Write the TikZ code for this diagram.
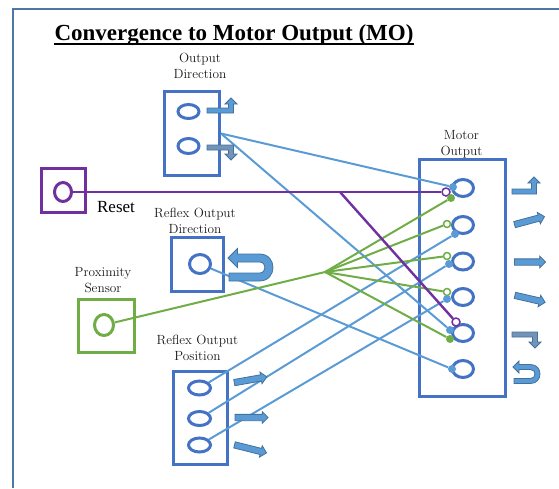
\documentclass[tikz,border=0pt]{standalone}
\usepackage{fontspec}
\newfontfamily\timesfont{Liberation Serif}
\usepackage{tikz}
\usetikzlibrary{arrows.meta,shapes.geometric,shapes.arrows,calc}
\definecolor{cBoxL}{HTML}{4472C4}
\definecolor{cWire}{HTML}{5B9BD5}
\definecolor{cGrn}{HTML}{70AD47}
\definecolor{cPur}{HTML}{7030A0}
\definecolor{cArrF}{HTML}{5B9BD5}
\definecolor{cArrL}{HTML}{41719C}
\definecolor{cArrD}{HTML}{7393B8}
\definecolor{cFrame}{HTML}{4A78A8}
\pgfdeclarelayer{front}
\pgfsetlayers{main,front}
\tikzset{
  unitbox/.style={draw=cBoxL,line width=3pt,inner sep=0pt},
  unitring/.style={ellipse,draw=cBoxL,line width=3pt,inner sep=0pt},
  unitlab/.style={font=\fontsize{13.3}{15.5}\selectfont,align=center,inner sep=0pt,
      text=black!90},
  wire/.style={draw=cWire,line width=2pt},
  gwire/.style={draw=cGrn,line width=2pt},
  pwire/.style={draw=cPur,line width=2.4pt},
  dotb/.style={circle,fill=cWire,inner sep=0pt,minimum size=8pt},
  dotg/.style={circle,fill=cGrn,inner sep=0pt,minimum size=8pt},
  ringg/.style={circle,draw=cGrn,fill=white,line width=1.5pt,inner sep=0pt,minimum size=7pt},
  ringp/.style={circle,draw=cPur,fill=white,line width=1.5pt,inner sep=0pt,minimum size=8pt},
  arrbody/.style={fill=cArrF,draw=cArrL,line width=0.8pt},
  blockarr/.style={single arrow,arrbody,inner sep=2.75pt,single arrow head extend=2.75pt,
      minimum height=33pt},
}
\newcommand{\unit}[6]{\node[unitbox,draw=#6,minimum width=#4pt,minimum height=#5pt]
  (#1) at (#2,#3) {};}
\newcommand{\ring}[6]{\node[unitring,draw=#6,minimum width=#4pt,minimum height=#5pt]
  (#1) at (#2,#3) {};}
\newcommand{\bendarr}[6]{%
  \filldraw[arrbody,fill=#6] (#1,{#3-(#5)*2.5}) -- ({#2+2.5},{#3-(#5)*2.5})
    -- ({#2+2.5},{#4-(#5)*6}) -- ({#2+6},{#4-(#5)*6}) -- (#2,#4)
    -- ({#2-6},{#4-(#5)*6}) -- ({#2-2.5},{#4-(#5)*6}) -- ({#2-2.5},{#3+(#5)*2.5})
    -- (#1,{#3+(#5)*2.5}) -- cycle;}
\newcommand{\uturnarr}[6]{%
  \pgfmathsetmacro\uR{#4/2+#5/2}\pgfmathsetmacro\ur{#4/2-#5/2}%
  \pgfmathsetmacro\uxc{#1+#3-\uR}%
  \filldraw[arrbody] (#1,#2) -- ({#1+#6},{#2-#6}) -- ({#1+#6},{#2-#5/2}) -- (\uxc,{#2-#5/2})
    .. controls ({\uxc+1.333*\uR},{#2-#5/2}) and ({\uxc+1.333*\uR},{#2+#4+#5/2})
    .. (\uxc,{#2+#4+#5/2}) -- ({#1+1},{#2+#4+#5/2}) -- ({#1+1},{#2+#4-#5/2})
    -- (\uxc,{#2+#4-#5/2}) .. controls ({\uxc+1.333*\ur},{#2+#4-#5/2})
    and ({\uxc+1.333*\ur},{#2+#5/2}) .. (\uxc,{#2+#5/2}) -- ({#1+#6},{#2+#5/2})
    -- ({#1+#6},{#2+#6}) -- cycle;}

\begin{document}
\begin{tikzpicture}[x=1pt,y=-1pt]
  \useasboundingbox (0,0) rectangle (559,488);
  \draw[cFrame,line width=2pt] (13,488) -- (13,9) -- (559,9);

  \node[font=\timesfont\bfseries\fontsize{23}{25}\selectfont,anchor=base,inner sep=0pt]
    (title) at (234,40.5) {Convergence to Motor Output (MO)};
  \draw[line width=1.4pt] ($(title.base west)+(0,3.5)$) -- ($(title.base east)+(0,3.5)$);

  \unit{odbox}{192}{133.5}{55}{84}{cBoxL}
  \unit{rsbox}{63.5}{190.5}{44}{44}{cPur}
  \unit{rdbox}{197.5}{264.5}{52}{54}{cBoxL}
  \unit{psbox}{106.5}{326}{56}{53}{cGrn}
  \unit{rpbox}{200.5}{418}{54}{93}{cBoxL}
  \unit{mobox}{462.5}{278}{86}{237}{cBoxL}

  \ring{od1}{188.5}{111.5}{21}{14}{cBoxL}
  \ring{od2}{188.5}{146}{21}{15}{cBoxL}
  \ring{rsring}{63}{192}{17}{19}{cPur}
  \ring{rdring}{200}{264}{21}{19}{cBoxL}
  \ring{psring}{104}{325}{19}{21}{cGrn}
  \ring{rp1}{199.5}{388}{22}{14}{cBoxL}
  \ring{rp2}{199.5}{418.5}{22}{14}{cBoxL}
  \ring{rp3}{199.5}{445}{22}{14}{cBoxL}
  \foreach \i/\yy in {1/188,2/225,3/261.5,4/297,5/333,6/369}
    {\ring{mo\i}{463}{\yy}{21}{17}{cBoxL}}

  \node[unitlab] (odlab) at (200,66) {Output\\Direction};
  \node[unitlab] (molab) at (461.5,144) {Motor\\Output};
  \node[unitlab] (rdlab) at (195,221) {Reflex Output\\Direction};
  \node[unitlab] (pslab) at (103,280) {Proximity\\Sensor};
  \node[unitlab] (rplab) at (197.5,348) {Reflex Output\\Position};
  \node[font=\timesfont\fontsize{17}{19}\selectfont,anchor=base,inner sep=0pt]
    (rslab) at (116,212) {Reset};

  \begin{pgfonlayer}{front}
    \node[ringp] (m1p) at (446,192) {};
    \node[dotg] (m1g) at (451,198) {};
    \node[dotb] (m1b) at (453,187) {};
    \node[ringg] (m2g) at (447,224) {};
    \node[dotb] (m2b) at (455,234) {};
    \node[ringg] (m3g) at (447,256) {};
    \node[dotb] (m3b) at (449,264) {};
    \node[ringg] (m4g) at (447,292) {};
    \node[dotb] (m4b) at (447,299) {};
    \node[ringp] (m5p) at (456,322) {};
    \node[dotb] (m5b) at (450,330) {};
    \node[dotg] (m5g) at (450,339) {};
    \node[dotb] (m6b) at (452,369) {};
  \end{pgfonlayer}

  \coordinate (hub) at (325,272);
  \coordinate (rsfork) at (340,192);
  \draw[wire] (odbox.east) -- (m1b);
  \draw[wire] (odbox.east) -- (m5b);
  \draw[wire] (rdring) -- (m6b);
  \draw[wire] (rp1) -- (m2b);
  \draw[wire] (rp2) -- (m3b);
  \draw[wire] (rp3) -- (m4b);
  \draw[gwire] (psring) -- (hub);
  \foreach \t in {m1g,m2g,m3g,m4g,m5g}
    \draw[gwire] (hub) -- (\t);
  \draw[pwire] (rsring) -- (m1p);
  \draw[pwire] (rsfork) -- (m5p);

  \bendarr{207}{231}{110.5}{98}{-1}{cArrF}
  \bendarr{207}{231}{147.5}{160}{1}{cArrD}
  \bendarr{512}{534}{191.5}{177}{-1}{cArrF}
  \bendarr{512}{535}{334.5}{348}{1}{cArrD}
  \uturnarr{513}{367}{27}{14}{5}{6}
  \uturnarr{228}{258}{45}{19}{8}{9.5}

  \node[blockarr,rotate=10] (rpa1) at (249,380) {};
  \node[blockarr] (rpa2) at (250,417.5) {};
  \node[blockarr,rotate=-14] (rpa3) at (249,448.5) {};
  \node[blockarr,minimum height=31pt,rotate=15] (moa2) at (528,221) {};
  \node[blockarr,minimum height=31pt] (moa3) at (528.5,262) {};
  \node[blockarr,minimum height=31pt,rotate=-13] (moa4) at (528.5,298.5) {};
\end{tikzpicture}
\end{document}
